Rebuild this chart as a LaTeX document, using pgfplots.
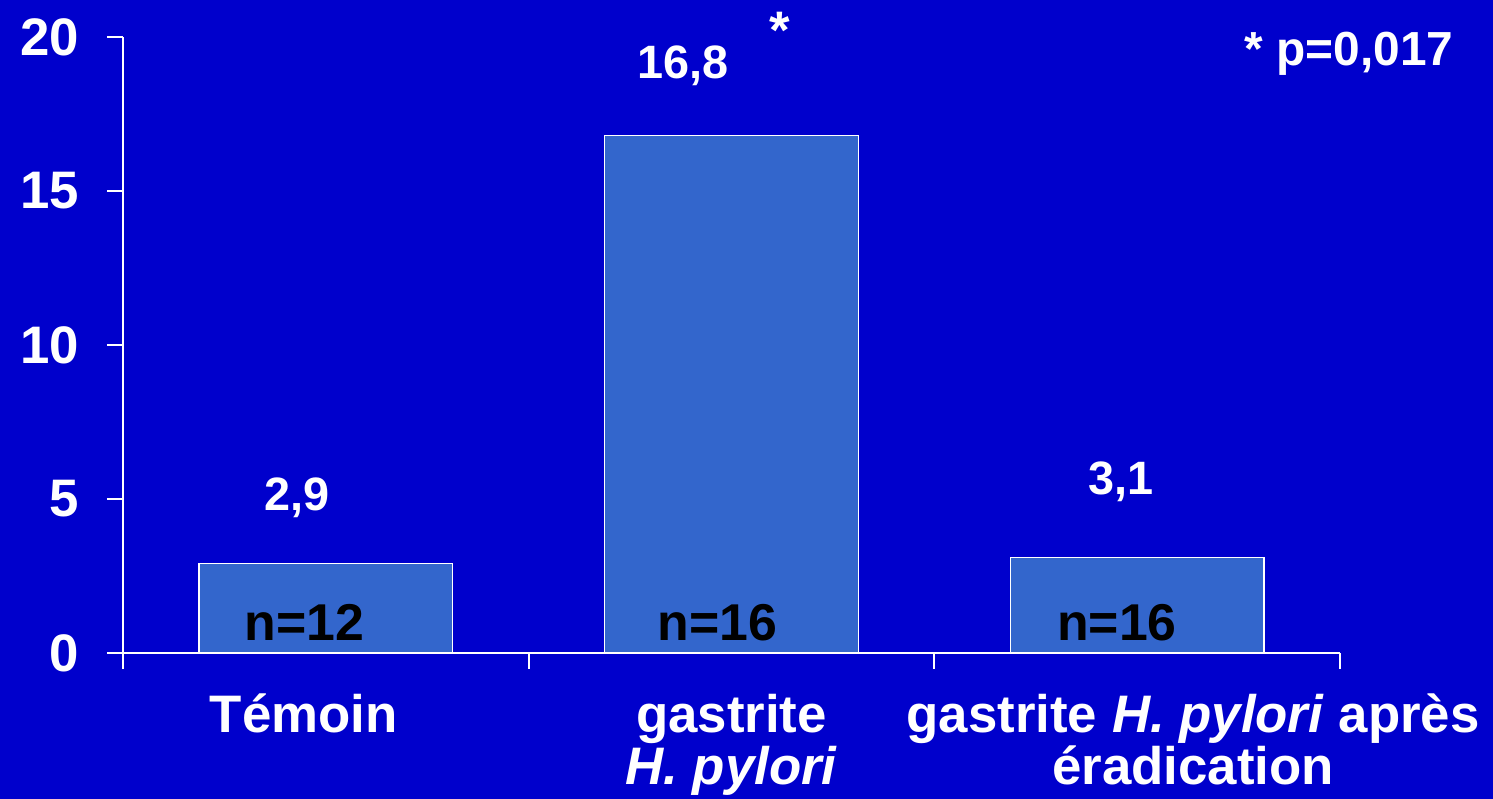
\documentclass[border=0pt]{standalone}
\usepackage{fontspec}
\setmainfont{Liberation Sans}
\usepackage{pgfplots}
\pgfplotsset{compat=1.18}
\definecolor{bg}{HTML}{0000CC}
\definecolor{barc}{HTML}{3366CC}
\begin{document}
\begin{tikzpicture}
\fill[bg] (0,0) rectangle (1493bp,799bp);
\useasboundingbox (0,0) rectangle (1493bp,799bp);
\begin{axis}[
  at={(123bp,146bp)}, anchor=south west,
  scale only axis, width=1217bp, height=616bp,
  xmin=-0.5, xmax=2.5, ymin=0, ymax=20,
  axis x line*=bottom, axis y line*=left,
  axis line style={white, line width=1.8bp},
  tick style={white, line width=1.8bp},
  tick align=outside,
  major tick length=16bp,
  xtick={-0.5,0.5,1.5,2.5},
  x tick label as interval,
  xticklabels={{\hspace*{-44bp}Témoin},{gastrite\\\textit{H. pylori}},{\hspace*{112bp}gastrite \textit{H. pylori} après\\\hspace*{112bp}éradication}},
  ytick={0,5,10,15,20},
  /pgf/number format/assume math mode=true,
  ticklabel style={text=white},
  yticklabel style={anchor=east, inner sep=0pt, xshift=-28bp, font=\bfseries\fontsize{53}{53}\selectfont},
  xticklabel style={anchor=north, inner sep=0pt, yshift=-25bp, align=center, font=\bfseries\fontsize{53}{52}\selectfont},
  ybar, bar width=0.625,
  clip=false,
]
\addplot[fill=barc, draw=white, line width=1.5bp] coordinates {(0,2.9) (1,16.8) (2,3.1)};
\node[white, font=\bfseries\fontsize{47}{47}\selectfont, anchor=base] at (axis cs:-0.071,4.64) {2,9};
\node[white, font=\bfseries\fontsize{47}{47}\selectfont, anchor=base] at (axis cs:0.88,18.64) {16,8};
\node[white, font=\bfseries\fontsize{47}{47}\selectfont, anchor=base] at (axis cs:1.96,5.13) {3,1};
\node[white, font=\bfseries\fontsize{53}{53}\selectfont, anchor=base] at (axis cs:1.119,19.64) {*};
\node[white, font=\bfseries\fontsize{48}{48}\selectfont, anchor=base west, inner sep=0pt] at (axis cs:2.265,19.09) {* p=0,017};
\node[black, font=\bfseries\fontsize{52}{52}\selectfont, anchor=base] at (axis cs:-0.052,0.42) {n=12};
\node[black, font=\bfseries\fontsize{52}{52}\selectfont, anchor=base] at (axis cs:0.966,0.42) {n=16};
\node[black, font=\bfseries\fontsize{52}{52}\selectfont, anchor=base] at (axis cs:1.95,0.42) {n=16};
\end{axis}
\end{tikzpicture}
\end{document}
